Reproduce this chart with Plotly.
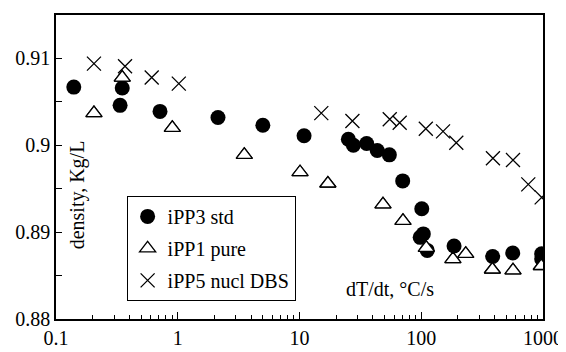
import plotly.graph_objects as go

# iPP3 std (filled circles)
ipp3_x = [0.14, 0.336, 0.35, 0.715, 2.14, 5.0, 10.9, 25.2, 27.7, 35.6, 43.5, 54.7, 70.4,
          101, 98, 104, 112, 186, 386, 564, 975, 975]
ipp3_y = [0.9067, 0.9046, 0.9066, 0.9039, 0.9032, 0.9023, 0.9011, 0.9007, 0.9000, 0.9002,
          0.8994, 0.8989, 0.8959, 0.8927, 0.8894, 0.8898, 0.8879, 0.8884, 0.8872, 0.8876,
          0.8875, 0.8869]

# iPP1 pure (open triangles)
ipp1_x = [0.205, 0.35, 0.902, 3.52, 10.1, 17.1, 48.5, 70.8, 110, 182, 232, 384, 567, 968]
ipp1_y = [0.9037, 0.9078, 0.9020, 0.8989, 0.8969, 0.8956, 0.8932, 0.8913, 0.8882, 0.8869,
          0.8875, 0.8857, 0.8856, 0.8861]

# iPP5 nucl DBS (crosses)
ipp5_x = [0.205, 0.369, 0.611, 1.02, 15.1, 27.2, 55.1, 66.5, 109, 151, 194, 388, 567, 757, 975]
ipp5_y = [0.9094, 0.9091, 0.9078, 0.9071, 0.9037, 0.9028, 0.9030, 0.9026, 0.9019, 0.9016,
          0.9003, 0.8985, 0.8983, 0.8955, 0.8940]

x_tickvals = [0.1, 1, 10, 100, 1000]
x_ticktext = ["0.1", "1", "10", "100", "1000"]
y_tickvals = [0.88, 0.89, 0.9, 0.91]
y_ticktext = ["0.88", "0.89", "0.9", "0.91"]

FONT = "Liberation Serif, Times New Roman, serif"

fig = go.Figure()
fig.add_trace(go.Scatter(
    x=ipp1_x, y=ipp1_y, mode="markers", name="iPP1 pure", showlegend=False,
    legendgroup="g2",
    marker=dict(symbol="triangle-up-open", size=14, color="black", line=dict(width=1.3)),
))
fig.add_trace(go.Scatter(
    x=ipp3_x, y=ipp3_y, mode="markers", name="iPP3 std", legendgroup="g1",
    marker=dict(symbol="circle", size=15, color="black", line=dict(width=0)),
))
fig.add_trace(go.Scatter(
    x=[None], y=[None], mode="markers", name="iPP1 pure", legendgroup="g2",
    marker=dict(symbol="triangle-up-open", size=14, color="black", line=dict(width=1.3)),
))
fig.add_trace(go.Scatter(
    x=ipp5_x, y=ipp5_y, mode="markers", name="iPP5 nucl DBS", legendgroup="g3",
    marker=dict(symbol="x-thin-open", size=14, color="black", line=dict(width=1.3)),
))
# redraw triangles on top of circles
fig.add_trace(go.Scatter(
    x=ipp1_x, y=ipp1_y, mode="markers", showlegend=False, legendgroup="g2",
    marker=dict(symbol="triangle-up", size=14, color="white", line=dict(width=1.3, color="black")),
))

fig.update_layout(
    width=566, height=352,
    margin=dict(l=48, r=31, t=7, b=41, autoexpand=False),
    paper_bgcolor="white", plot_bgcolor="white",
    font=dict(family=FONT, size=20, color="black"),
    legend=dict(
        x=0.145, y=0.405, xanchor="left", yanchor="top",
        bordercolor="black", borderwidth=1, bgcolor="white",
        font=dict(family=FONT, size=20), itemwidth=30,
        traceorder="grouped", tracegroupgap=3,
    ),
    annotations=[
        dict(text="density, Kg/L", xref="paper", yref="paper", x=0.043, y=0.41,
             textangle=-90, showarrow=False, xanchor="center", yanchor="middle",
             font=dict(family=FONT, size=20)),
        dict(text="dT/dt, °C/s", xref="paper", yref="paper", x=0.685, y=0.1,
             showarrow=False, xanchor="center", yanchor="middle",
             font=dict(family=FONT, size=20)),
    ],
)
fig.update_xaxes(
    type="log", range=[-1, 3], tickvals=x_tickvals, ticktext=x_ticktext,
    ticks="inside", ticklen=7, tickwidth=1, tickcolor="black",
    showline=True, linecolor="black", linewidth=1.5, mirror=True,
    showgrid=False, zeroline=False, automargin=False,
    minor=dict(ticks="inside", ticklen=4, tickcolor="black", dtick="D1", showgrid=False),
    tickfont=dict(family=FONT, size=20),
)
fig.update_yaxes(
    range=[0.88, 0.915], tickvals=y_tickvals, ticktext=y_ticktext,
    ticks="inside", ticklen=6, tickwidth=1, tickcolor="black",
    showline=True, linecolor="black", linewidth=1.5, mirror=True,
    showgrid=False, zeroline=False, automargin=False,
    minor=dict(ticks="inside", ticklen=6, tickcolor="black", dtick=0.005, showgrid=False),
    tickfont=dict(family=FONT, size=20),
)

fig.write_html("out.html")
